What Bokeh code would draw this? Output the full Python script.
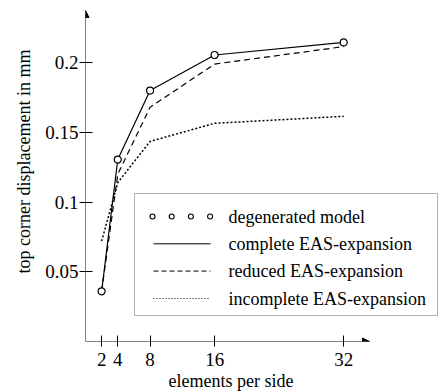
from bokeh.plotting import figure
from bokeh.models import Range1d, FixedTicker, Arrow, NormalHead, BoxAnnotation, Label, Title
from bokeh.embed import file_html
from bokeh.resources import INLINE

# ---- data ----
elements = [2, 4, 8, 16, 32]
degenerated = [0.036, 0.1305, 0.180, 0.2055, 0.2145]
complete = [0.036, 0.1305, 0.180, 0.2055, 0.2145]
reduced = [0.036, 0.120, 0.168, 0.199, 0.2115]
incomplete = [0.072, 0.114, 0.1435, 0.1565, 0.1615]

x_ticks = [2, 4, 8, 16, 32]
y_ticks = [0.05, 0.1, 0.15, 0.2]
y_tick_labels = ["0.05", "0.1", "0.15", "0.2"]
legend_labels = ["degenerated model", "complete EAS-expansion",
                 "reduced EAS-expansion", "incomplete EAS-expansion"]
x_title = "elements per side"
y_title = "top corner displacement in mm"

FONT = "Liberation Serif"

# ---- layout (picture pixels) ----
FL, FR, FT, FB = 85, 438, 10, 341      # frame edges in the picture
FW, FH = FR - FL, FB - FT
X_END = 43.74
Y_END = 0.2374
SX = FW / X_END
SY = FH / Y_END


def dx(px):
    return (px - FL) / SX


def dy(py):
    return (FB - py) / SY


W, H = 440, 392
p = figure(width=W, height=H, output_backend="svg", toolbar_location=None,
           x_range=Range1d(0, X_END), y_range=Range1d(0, Y_END),
           min_border_left=FL, min_border_right=W - FR,
           min_border_top=FT, min_border_bottom=H - FB)
p.outline_line_color = None
p.grid.visible = False
p.background_fill_color = "white"

# axes
for ax in (p.xaxis[0], p.yaxis[0]):
    ax.axis_line_color = None
    ax.major_tick_line_color = "black"
    ax.major_tick_line_width = 1
    ax.minor_tick_line_color = None
    ax.major_label_text_font = FONT
    ax.major_label_text_font_size = "19px"
    ax.major_label_text_color = "black"

p.xaxis.ticker = FixedTicker(ticks=x_ticks)
p.xaxis.major_tick_in = 6
p.xaxis.major_tick_out = 5
p.xaxis.major_label_standoff = 6

p.yaxis.ticker = FixedTicker(ticks=y_ticks)
p.yaxis.major_label_overrides = {t: s for t, s in zip(y_ticks, y_tick_labels)}
p.yaxis.major_tick_in = 7
p.yaxis.major_tick_out = 6
p.yaxis.major_label_standoff = 1

# axis titles, placed along the drawn axis lines
p.add_layout(Title(text=x_title, align="left", offset=83, standoff=0,
                   text_font=FONT, text_font_size="18px",
                   text_font_style="normal", text_color="black"), "below")
p.add_layout(Title(text=y_title, align="left", offset=68, standoff=18,
                   text_font=FONT, text_font_size="18px",
                   text_font_style="normal", text_color="black"), "left")

# axis lines with arrows
p.add_layout(Arrow(x_start=0, y_start=0, x_end=dx(369), y_end=0,
                   line_color="black", line_width=1,
                   end=NormalHead(size=7, fill_color="black", line_color="black")))
p.add_layout(Arrow(x_start=0, y_start=0, x_end=0, y_end=dy(10),
                   line_color="black", line_width=1,
                   end=NormalHead(size=7, fill_color="black", line_color="black")))

# series
p.line(elements, complete, line_color="black", line_width=1.2)
p.line(elements, reduced, line_color="black", line_width=1.2, line_dash="6 4")
p.line(elements, incomplete, line_color="black", line_width=1.5, line_dash="2 2")
p.scatter(elements, degenerated, marker="circle", size=7, line_color="black",
          line_width=1.2, fill_color="white")

# legend box
p.add_layout(BoxAnnotation(left=dx(134), right=dx(437), top=dy(193), bottom=dy(315),
                           fill_color="white", fill_alpha=1.0,
                           line_color="black", line_width=1, level="underlay"))
rows = [216, 243.3, 270.6, 298]
sw0, sw1 = 153, 210
sw_x = [dx(152 + 19.2 * i) for i in range(4)]
p.scatter(sw_x, [dy(rows[0])] * 4, marker="circle", size=5, line_color="black",
          line_width=1.1, fill_color="white")
dashes = ["solid", "5 3", "1 2"]
for r, dsh in zip(rows[1:], dashes):
    p.add_layout(Arrow(x_start=dx(sw0), y_start=dy(r), x_end=dx(sw1), y_end=dy(r),
                       end=None, line_color="black", line_width=1,
                       line_dash=dsh, level="overlay"))
for r, lab in zip(rows, legend_labels):
    p.add_layout(Label(x=dx(228), y=dy(r), text=lab, text_font=FONT,
                       text_font_size="18px", text_baseline="middle",
                       text_color="black", level="overlay"))

open("out.html", "w").write(file_html(p, INLINE))
